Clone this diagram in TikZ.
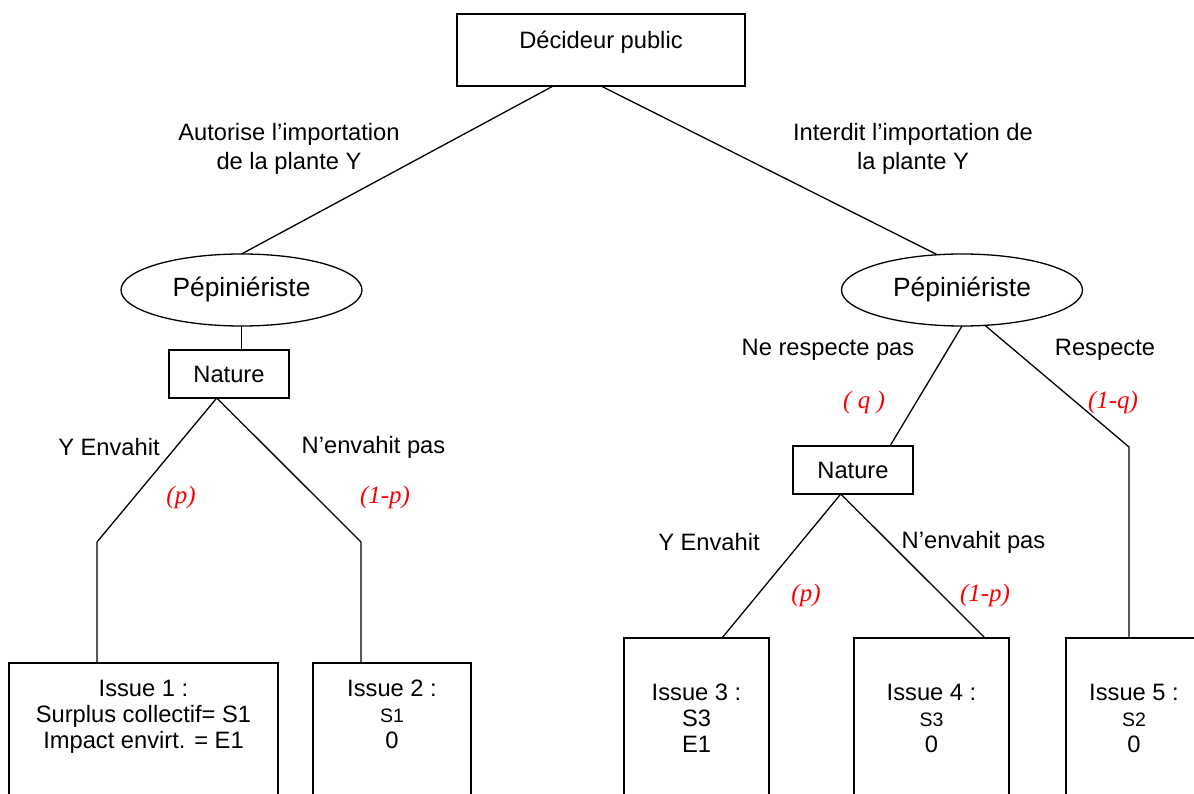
\documentclass[tikz,border=0pt]{standalone}
\usepackage{fontspec}
\setmainfont{Liberation Sans}
\newfontfamily\probfont{Liberation Serif}
\usetikzlibrary{shapes.geometric}
\newcommand{\normtxt}{\fontsize{23.7}{26}\selectfont}
\newcommand{\smalltxt}{\fontsize{19.5}{26}\selectfont}
\begin{document}
\begin{tikzpicture}[x=1pt,y=-1pt,line width=1.3pt,
		decbox/.style={draw, rectangle, anchor=north, inner sep=0pt, outer sep=0pt, minimum width=288pt, text height=34.5pt, text depth=37.5pt, font=\normtxt},
		player/.style={draw, ellipse, inner sep=0pt, outer sep=0pt, minimum width=241pt, minimum height=72pt, font=\fontsize{26.4}{30}\selectfont},
		natbox/.style={draw, rectangle, inner sep=0pt, outer sep=0pt, minimum width=120pt, minimum height=48pt, font=\normtxt},
		issuebox/.style={draw, rectangle, anchor=north, inner sep=0pt, outer sep=0pt, text depth=150pt, font=\normtxt},
		branch/.style={align=center, font=\fontsize{23.7}{29}\selectfont},
		proba/.style={text=red, font=\fontsize{25}{29}\selectfont\probfont\itshape}]
				\useasboundingbox (0,0) rectangle (1194,794);
				\clip (0,0) rectangle (1194,794);
				% joueurs et nature
				\node (dec)[decbox] at (601,14) {Décideur public};
				\node (ppL)[player] at (241.5,290) {Pépiniériste};
				\node (ppR)[player] at (962,290) {Pépiniériste};
				\node (natL)[natbox] at (229,374) {Nature};
				\node (natR)[natbox] at (853,470) {Nature};
				% issues
				\node (i1)[issuebox, minimum width=269pt, text height=33.5pt] at (143.5,663) {\begin{tabular}[t]{@{}c@{}}Issue 1 :\\Surplus collectif= S1\\Impact envirt. = E1\end{tabular}};
				\node (i2)[issuebox, minimum width=158pt, text height=33.5pt] at (392,663) {\begin{tabular}[t]{@{}c@{}}Issue 2 :\\{\smalltxt S1}\\0\end{tabular}};
				\node (i3)[issuebox, minimum width=145pt, text height=62.5pt] at (696.5,638) {\begin{tabular}[t]{@{}c@{}}Issue 3 :\\S3\\E1\end{tabular}};
				\node (i4)[issuebox, minimum width=155pt, text height=62.5pt] at (931.5,638) {\begin{tabular}[t]{@{}c@{}}Issue 4 :\\{\smalltxt S3}\\0\end{tabular}};
				\node (i5)[issuebox, minimum width=136pt, text height=62.5pt] at (1134,638) {\begin{tabular}[t]{@{}c@{}}Issue 5 :\\{\smalltxt S2}\\0\end{tabular}};
				% coudes des branches
				\coordinate (kL1) at (97,542);
				\coordinate (kL2) at (361,542);
				\coordinate (kR) at (1129,447);
				% branches
				\draw (dec.217) -- (ppL.north);
				\draw (dec.south) -- (ppR.125);
				\draw (ppL.south) -- (ppL.south |- natL.north);
				\draw (natL.243) -- (kL1) -- (kL1 |- i1.north);
				\draw (natL.243) -- (kL2) -- (kL2 |- i2.north);
				\draw (ppR.south) -- (natR.33);
				\draw (ppR.303) -- (kR) -- (kR |- i5.north);
				\draw (natR.243) -- ([xshift=25.5pt]i3.north);
				\draw (natR.243) -- ([xshift=53.5pt]i4.north);
				% etiquettes
				\node (lAut)[branch] at (289,148.5) {Autorise l’importation\\de la plante Y};
				\node (lInt)[branch] at (913,148.5) {Interdit l’importation de\\la plante Y};
				\node (lYL)[branch] at (109,447) {Y Envahit};
				\node (lNL)[branch] at (373.5,447) {N’envahit pas};
				\node (pL)[proba] at (181,497) {(p)};
				\node (npL)[proba] at (385,497) {(1-p)};
				\node (lNe)[branch] at (828,350) {Ne respecte pas};
				\node (lRe)[branch] at (1105,350) {Respecte};
				\node (q)[proba] at (864,402) {( q )};
				\node (nq)[proba] at (1113,402) {(1-q)};
				\node (lYR)[branch] at (709,542) {Y Envahit};
				\node (lNR)[branch] at (973.5,542) {N’envahit pas};
				\node (pR)[proba] at (806,595) {(p)};
				\node (npR)[proba] at (985,595) {(1-p)};
			\end{tikzpicture}
\end{document}
